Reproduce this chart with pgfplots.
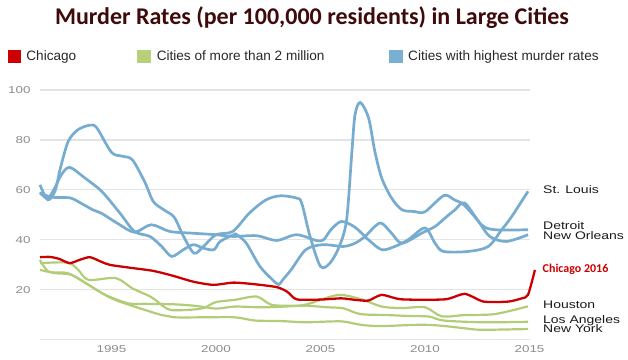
\documentclass[border=0pt]{standalone}
\usepackage{pgfplots}
\pgfplotsset{compat=1.18}
\usepackage{fontspec}
\setmainfont{Liberation Sans}
\newfontfamily\tickfont{Liberation Sans}[FakeStretch=1.34]
\newfontfamily\lblfont{Liberation Sans}[FakeStretch=1.27]
\newfontfamily\carlito{Carlito}
\definecolor{chired}{RGB}{204,0,0}
\definecolor{bigblue}{RGB}{118,172,208}
\definecolor{biggreen}{RGB}{178,205,120}
\definecolor{legred}{RGB}{204,0,0}
\definecolor{leggreen}{RGB}{184,208,122}
\definecolor{legblue}{RGB}{122,175,212}
\definecolor{titlecol}{RGB}{62,10,10}
\definecolor{tickgray}{RGB}{140,140,140}
\definecolor{gridgray}{RGB}{228,228,228}
\definecolor{lbl}{RGB}{25,25,25}
\definecolor{legtext}{RGB}{40,40,40}
\begin{document}
\begin{tikzpicture}
\useasboundingbox (0pt,0pt) rectangle (628pt,359pt);
\begin{axis}[
  at={(40pt,19.5pt)}, anchor=south west,
  scale only axis, width=489.5pt, height=249.5pt,
  xmin=1991.58, xmax=2015, ymin=0, ymax=100,
  clip=false,
  axis line style={draw=none},
  major tick length=0pt,
  xtick={1995,2000,2005,2010,2015},
  ytick={0,20,40,60,80,100},
  yticklabels={,20,40,60,80,100},
  ymajorgrids, grid style={gridgray, line width=1.3pt},
  /pgf/number format/1000 sep={},
  /pgf/number format/assume math mode=true,
  tick label style={font=\tickfont\fontsize{10}{12}\selectfont, text=tickgray},
  xticklabel style={anchor=north, inner sep=0pt, yshift=-5.5pt},
  yticklabel style={anchor=east, inner sep=0pt, xshift=-9.3pt},
  legend columns=3,
  legend cell align=left,
  legend style={at={(-0.0654,1.1363)}, anchor=west, draw=none, fill=none,
    inner sep=0pt, outer sep=0pt, font=\fontsize{13.6}{16}\selectfont, text=legtext,
    /tikz/every odd column/.style={column sep=6pt},
    /tikz/every even column/.style={column sep=0pt},
    nodes={inner sep=0pt}},
]
\addlegendimage{legend image code/.code={\fill[legred] (0pt,-6pt) rectangle (12pt,6pt);}}
\addlegendentry{\makebox[111pt][l]{Chicago}}
\addlegendimage{legend image code/.code={\fill[leggreen] (0pt,-6pt) rectangle (13pt,6pt);}}
\addlegendentry{\makebox[232pt][l]{Cities of more than 2 million}}
\addlegendimage{legend image code/.code={\fill[legblue] (0pt,-6pt) rectangle (13pt,6pt);}}
\addlegendentry{Cities with highest murder rates}

% Green: Houston
\addplot[forget plot, biggreen, line width=2.2pt, smooth] coordinates {
(1991.58,31.9) (1992.0,27.2) (1992.9,26.6) (1993.9,21.9) (1994.7,17.9) (1995.8,14.5)
(1996.6,14.3) (1998.0,14.1) (1999.0,13.5) (2000.0,12.4) (2000.9,13.2) (2002.2,12.9)
(2003.5,13.3) (2004.3,14.0) (2005.37,16.9) (2006.0,17.9) (2006.97,16.1) (2007.93,13.2)
(2008.88,12.6) (2010.0,12.9) (2010.8,9.3) (2011.9,9.8) (2013.35,10.2) (2014.93,13.3)};
% Green: Los Angeles
\addplot[forget plot, biggreen, line width=2.2pt, smooth] coordinates {
(1991.58,30.6) (1992.9,30.8) (1993.4,28.0) (1993.9,23.9) (1995.2,24.6) (1996.0,20.5)
(1996.9,17.0) (1997.5,13.2) (1997.85,11.8) (1998.5,11.8) (1999.15,12.2) (1999.5,12.9)
(2000.0,15.0) (2000.9,15.9) (2001.95,17.2) (2002.66,13.9) (2003.8,13.5) (2004.4,13.5)
(2005.37,12.9) (2006.1,12.5) (2006.9,10.2) (2008.2,9.8) (2009.3,9.4) (2010.2,9.2)
(2010.9,7.6) (2012.8,6.9) (2014.93,7.1)};
% Green: New York
\addplot[forget plot, biggreen, line width=2.2pt, smooth] coordinates {
(1991.58,27.9) (1992.3,26.6) (1993.1,25.9) (1993.9,21.9) (1995.0,16.5) (1996.1,13.2)
(1997.4,9.8) (1998.0,8.9) (1999.5,8.9) (2000.9,8.9) (2001.87,7.6) (2003.1,7.4)
(2004.26,6.9) (2005.37,7.2) (2006.1,7.2) (2007.0,5.8) (2007.93,5.4) (2009.8,5.9)
(2010.8,5.5) (2011.9,4.5) (2012.7,3.9) (2014.93,4.2)};

% Blue: New Orleans
\addplot[forget plot, bigblue, line width=2.7pt, smooth] coordinates {
(1991.58,62) (1991.95,56) (1992.3,59.5) (1992.55,68.5) (1992.93,79.4) (1993.4,84.1)
(1993.97,85.9) (1994.3,84.8) (1995.0,75) (1995.5,73.5) (1996.0,72) (1996.6,63)
(1997.0,55.3) (1997.5,52) (1998.0,49) (1998.45,41.3) (1998.95,34.6) (1999.4,37.3)
(2000.0,42) (2000.8,43.3) (2001.6,50.7) (2002.4,56) (2003.1,57.6) (2003.85,56.7)
(2004.1,54.7) (2004.5,41.3) (2005.0,29.3) (2005.45,30.6) (2005.9,37.3) (2006.25,48)
(2006.5,75) (2006.65,90) (2006.9,95) (2007.3,88.8) (2007.6,75.4) (2007.93,64.7)
(2008.4,56.7) (2008.9,52) (2009.5,51.3) (2010.0,51.2) (2010.9,57.7) (2011.4,56)
(2011.85,54) (2012.5,48) (2013.1,41.3) (2013.9,39.3) (2014.93,42)};
% Blue: St. Louis (early) / Detroit (late)
\addplot[forget plot, bigblue, line width=2.7pt, smooth] coordinates {
(1991.58,59) (1991.95,56.5) (1992.3,61) (1992.6,66) (1993.0,69) (1993.73,64.7)
(1994.53,59.4) (1995.4,50.7) (1996.1,43.3) (1996.84,41.3) (1997.4,37.3) (1997.88,33.3)
(1998.44,36) (1998.92,38) (1999.4,36.6) (1999.9,36) (2000.2,39.3) (2000.85,42)
(2001.0,42) (2001.45,38.6) (2002.1,29.3) (2002.7,24) (2003.0,22) (2003.2,24)
(2003.6,28) (2004.3,36) (2005.1,38) (2006.1,37.3) (2006.65,38.6) (2007.13,41.3)
(2007.85,46.7) (2008.4,42.6) (2008.9,38.6) (2009.84,42.6) (2010.48,45.3) (2010.96,48.7)
(2011.44,52) (2011.9,54.7) (2012.7,46) (2013.35,44) (2014.93,44)};
% Blue: Detroit (early) / St. Louis (late)
\addplot[forget plot, bigblue, line width=2.7pt, smooth] coordinates {
(1991.58,58.5) (1992.2,57) (1993.0,56.8) (1993.4,55.3) (1994.1,52) (1994.5,50.7)
(1995.3,46.5) (1996.1,43) (1996.9,46) (1997.8,43.3) (1998.9,42.6) (2000.0,42)
(2000.8,41.3) (2001.95,41.6) (2002.9,39.7) (2003.85,42) (2004.8,39.7) (2005.15,40)
(2005.5,44) (2006.0,47.3) (2006.65,45) (2007.29,40) (2007.93,36) (2008.56,37.3)
(2009.2,40) (2010.0,44.7) (2010.48,38.6) (2010.88,35.3) (2012.07,35.3) (2013.03,37.3)
(2013.67,44) (2014.15,49.3) (2014.93,59.4)};

% Red: Chicago
\addplot[forget plot, chired, line width=2.3pt, smooth, tension=0.4] coordinates {
(1991.58,33) (1992.06,33.1) (1992.5,32.3) (1993.0,30.6) (1993.5,32) (1993.97,33)
(1994.5,31.2) (1994.93,29.9) (1996.04,28.6) (1997.0,27.5) (1997.96,25.5) (1998.9,23.2)
(1999.87,21.9) (2000.83,22.8) (2001.8,22.2) (2002.9,21) (2003.4,19.2) (2003.86,16.1)
(2005.0,16) (2006.0,16.5) (2006.65,15.9) (2007.29,15.6) (2007.93,17.9) (2008.88,16.1)
(2010.96,16.1) (2011.9,18.3) (2012.8,15.2) (2013.98,15.2) (2014.63,16.5) (2014.93,17.9)
(2015.26,27.9)};
\end{axis}
\node[font=\carlito\bfseries\fontsize{24}{28}\selectfont, text=titlecol] at (312pt,341pt) {Murder Rates (per 100,000 residents) in Large Cities};
\begin{scope}[every node/.style={anchor=base west, inner sep=0pt, font=\lblfont\fontsize{11}{13}\selectfont, text=lbl}]
\node at (543pt,165pt) {St. Louis};
\node at (543pt,129.5pt) {Detroit};
\node at (543pt,119.5pt) {New Orleans};
\node at (543pt,50.7pt) {Houston};
\node at (543pt,36pt) {Los Angeles};
\node at (543pt,26.5pt) {New York};
\end{scope}
\node[anchor=base west, inner sep=0pt, font=\carlito\bfseries\fontsize{12}{14}\selectfont, text=chired] at (542.5pt,87pt) {Chicago 2016};
\end{tikzpicture}
\end{document}
